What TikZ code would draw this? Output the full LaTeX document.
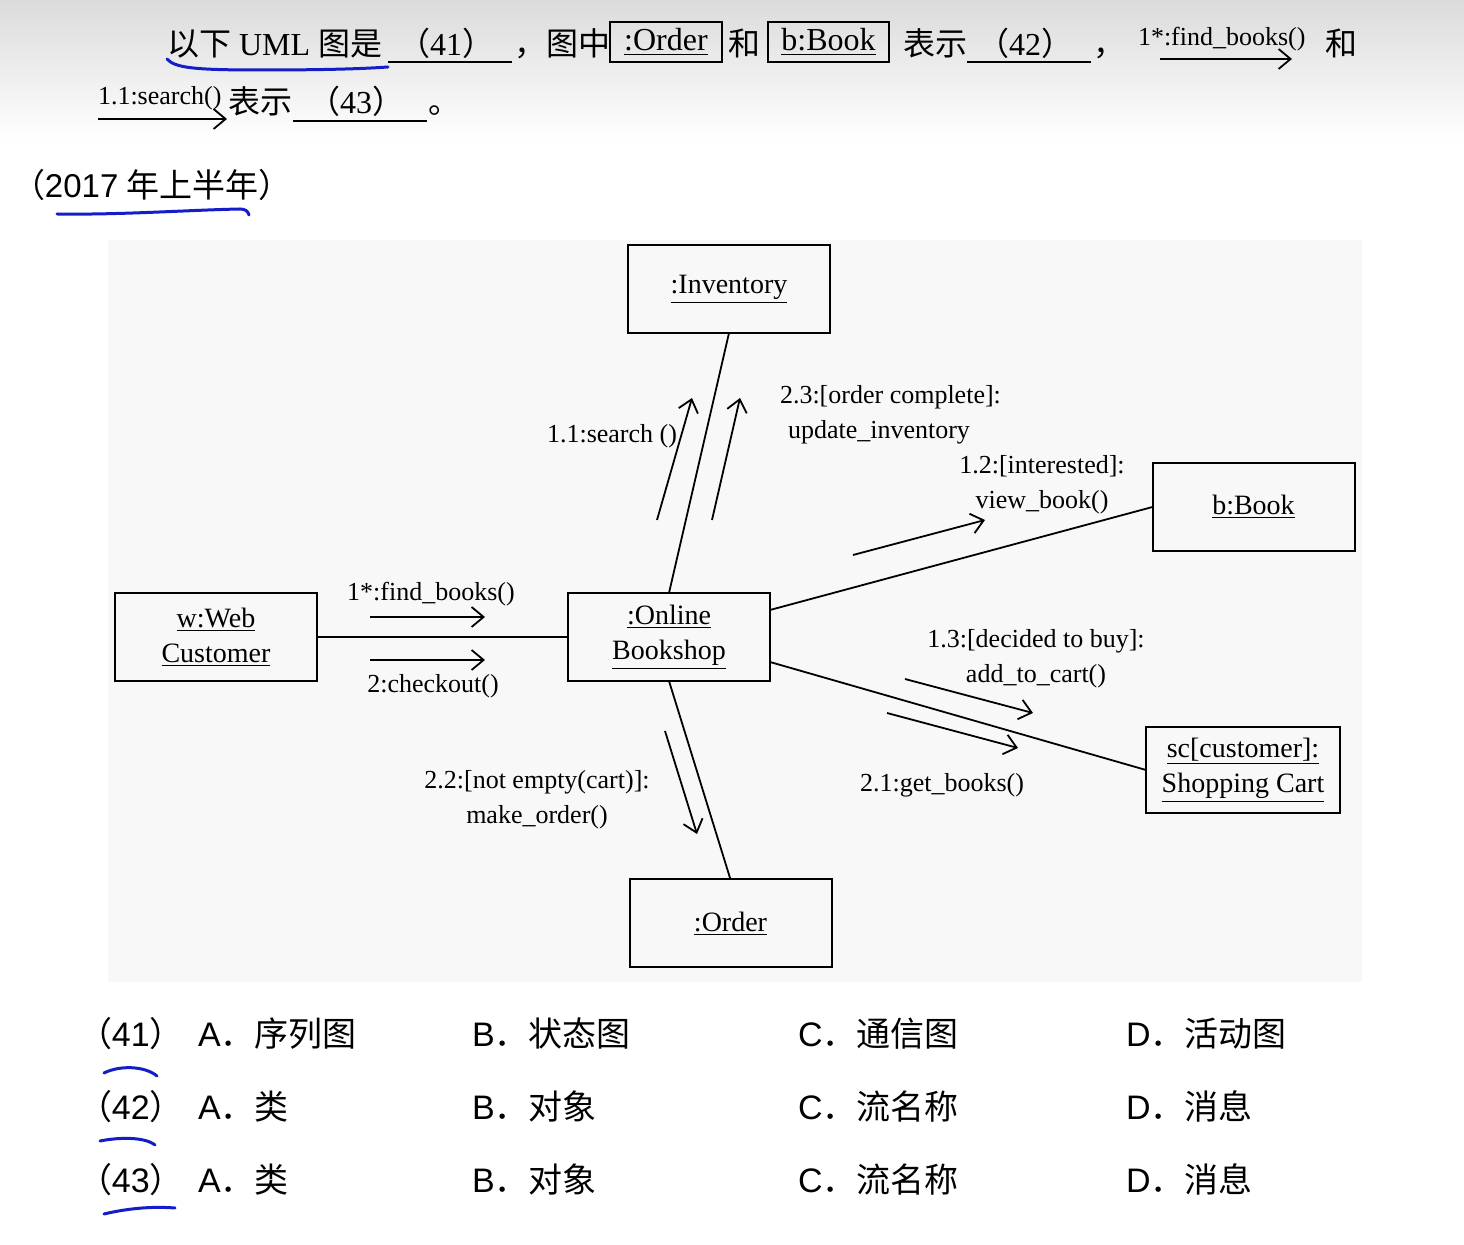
\documentclass[tikz,border=0pt]{standalone}
\usepackage{fontspec}
\setmainfont{Liberation Serif}
\newfontfamily\cjk{Noto Sans CJK SC}
\newfontfamily\arial{Liberation Sans}
\usetikzlibrary{arrows.meta}
\definecolor{inkblue}{RGB}{20,30,200}
\definecolor{panel}{gray}{0.972}
\begin{document}
\begin{tikzpicture}[x=0.5pt,y=-0.5pt,
  every node/.style={inner sep=0pt, outer sep=0pt},
  qtext/.style={anchor=base west, font=\fontsize{16}{19}\selectfont},
  qsmall/.style={anchor=base west, font=\fontsize{13}{15}\selectfont},
  opt/.style={anchor=base west, font=\arial\fontsize{17}{20}\selectfont},
  inbox/.style={draw, line width=1pt, minimum height=20pt, font=\fontsize{16}{19}\selectfont},
  obj/.style={draw, line width=1pt, minimum width=101pt, minimum height=44pt,
    align=center, font=\fontsize{14}{17.5}\selectfont},
  link/.style={line width=0.9pt},
  msg/.style={line width=0.9pt, -{Straight Barb[length=6pt,width=10pt,line width=0.9pt]}},
  lbl/.style={align=center, font=\fontsize{13}{17.5}\selectfont},
  blank/.style={line width=0.9pt},
  ink/.style={draw=inkblue, line width=1.5pt, line cap=round},
]
\useasboundingbox (0,0) rectangle (1464,1245);
\fill[white] (0,0) rectangle (1464,1245);
\shade[top color=black!14, bottom color=white] (0,0) rectangle (1464,140);

% ---------- question text ----------
\node[qtext] (q1) at (167,56) {{\cjk 以下} UML {\cjk 图是}};
\draw[blank] (388,62) -- (512,62);
\node[qtext, anchor=base] (q41) at (446,56) {{\cjk （}41{\cjk ）}};
\node[qtext] (q2) at (514,56) {\cjk ，图中};
\node[inbox, minimum width=56pt] (qorder) at (666,42) {\underline{:Order}};
\node[qtext] (q3) at (728,56) {\cjk 和};
\node[inbox, minimum width=60.5pt] (qbook) at (828.5,42) {\underline{b:Book}};
\node[qtext] (q4) at (903,56) {\cjk 表示};
\draw[blank] (967,62) -- (1091,62);
\node[qtext, anchor=base] (q42) at (1025,56) {{\cjk （}42{\cjk ）}};
\node[qtext] (q5) at (1093,56) {\cjk ，};
\node[qsmall] (qfind) at (1138,46) {1*:find\_books()};
\coordinate (qf1) at (1160,59);
\coordinate (qf2) at (1292,59);
\draw[msg, line width=1.1pt] (qf1) -- (qf2);
\node[qtext] (q6) at (1325,56) {\cjk 和};

\node[qsmall] (qsearch) at (98,105) {1.1:search()};
\coordinate (qs1) at (98,119);
\coordinate (qs2) at (227,119);
\draw[msg, line width=1.1pt] (qs1) -- (qs2);
\node[qtext] (q7) at (228,114) {\cjk 表示};
\draw[blank] (293,121) -- (427,121);
\node[qtext, anchor=base] (q43) at (356,114) {{\cjk （}43{\cjk ）}};
\node[qtext] (q8) at (428,114) {\cjk 。};

\node[anchor=base west, font=\fontsize{16.5}{19}\selectfont] (year) at (12,198)
  {{\cjk （}{\arial 2017} {\cjk 年上半年）}};

% hand-drawn marks
\draw[ink] (167,59) .. controls (175,68) and (195,70) .. (260,70)
  .. controls (320,70) and (360,69) .. (388,67);
\draw[ink] (57,214) .. controls (120,215) and (190,210) .. (240,209)
  .. controls (245,209) and (248,211) .. (249,215);

% ---------- communication diagram ----------
\fill[panel] (108,240) rectangle (1362,982);

\node[obj] (inv) at (729,289) {\underline{:Inventory}};
\node[obj] (book) at (1253.5,507) {\underline{b:Book}};
\node[obj] (web) at (216,637) {\underline{w:Web}\\\underline{Customer}};
\node[obj] (shop) at (669,637) {\underline{:Online}\\\underline{Bookshop}};
\node[obj, minimum width=97pt, minimum height=43pt] (cart) at (1243,770)
  {\underline{sc[customer]:}\\\underline{Shopping Cart}};
\node[obj] (ord) at (730.5,923.5) {\underline{:Order}};

\draw[link] (inv.south) -- (shop.north);
\draw[link] (web.east) -- (shop.west);
\draw[link] ([yshift=13.5pt]shop.east) -- (book.west);
\draw[link] ([yshift=-12.5pt]shop.east) -- (cart.west);
\draw[link] (shop.south) -- (ord.north);

% messages
\coordinate (m1a) at (657,520);  \coordinate (m1b) at (692,398);
\coordinate (m2a) at (712,520);  \coordinate (m2b) at (740,398);
\coordinate (m3a) at (853,555);  \coordinate (m3b) at (985,520);
\coordinate (m4a) at (370,617);  \coordinate (m4b) at (485,617);
\coordinate (m5a) at (370,660);  \coordinate (m5b) at (485,660);
\coordinate (m6a) at (905,679);  \coordinate (m6b) at (1033,713);
\coordinate (m7a) at (887,713);  \coordinate (m7b) at (1018,748);
\coordinate (m8a) at (665,731);  \coordinate (m8b) at (697,834);
\draw[msg] (m1a) -- (m1b);
\draw[msg] (m2a) -- (m2b);
\draw[msg] (m3a) -- (m3b);
\draw[msg] (m4a) -- (m4b);
\draw[msg] (m5a) -- (m5b);
\draw[msg] (m6a) -- (m6b);
\draw[msg] (m7a) -- (m7b);
\draw[msg] (m8a) -- (m8b);

\node[lbl] (l1) at (612,436) {1.1:search ()};
\node[lbl, anchor=north west, align=left] (l2) at (780,385)
  {2.3:[order complete]:\\\hspace{4pt}update\_inventory};
\node[lbl] (l3) at (1042,485) {1.2:[interested]:\\view\_book()};
\node[lbl] (l4) at (431,594) {1*:find\_books()};
\node[lbl] (l5) at (433,686) {2:checkout()};
\node[lbl] (l6) at (1036,659) {1.3:[decided to buy]:\\add\_to\_cart()};
\node[lbl] (l7) at (942,785) {2.1:get\_books()};
\node[lbl] (l8) at (537,800) {2.2:[not empty(cart)]:\\make\_order()};

% ---------- answer options ----------
\node[opt] (n41) at (78,1047) {{\cjk （}41{\cjk ）}};
\node[opt] (o41a) at (198,1047) {A{\cjk ．序列图}};
\node[opt] (o41b) at (472,1047) {B{\cjk ．状态图}};
\node[opt] (o41c) at (798,1047) {C{\cjk ．通信图}};
\node[opt] (o41d) at (1126,1047) {D{\cjk ．活动图}};

\node[opt] (n42) at (78,1120) {{\cjk （}42{\cjk ）}};
\node[opt] (o42a) at (198,1120) {A{\cjk ．类}};
\node[opt] (o42b) at (472,1120) {B{\cjk ．对象}};
\node[opt] (o42c) at (798,1120) {C{\cjk ．流名称}};
\node[opt] (o42d) at (1126,1120) {D{\cjk ．消息}};

\node[opt] (n43) at (78,1193) {{\cjk （}43{\cjk ）}};
\node[opt] (o43a) at (198,1193) {A{\cjk ．类}};
\node[opt] (o43b) at (472,1193) {B{\cjk ．对象}};
\node[opt] (o43c) at (798,1193) {C{\cjk ．流名称}};
\node[opt] (o43d) at (1126,1193) {D{\cjk ．消息}};

\draw[ink] (104,1073) .. controls (120,1065) and (145,1066) .. (157,1076);
\draw[ink] (100,1141) .. controls (120,1137) and (145,1137) .. (155,1145);
\draw[ink] (104,1214) .. controls (125,1209) and (150,1206) .. (175,1208);
\end{tikzpicture}
\end{document}
